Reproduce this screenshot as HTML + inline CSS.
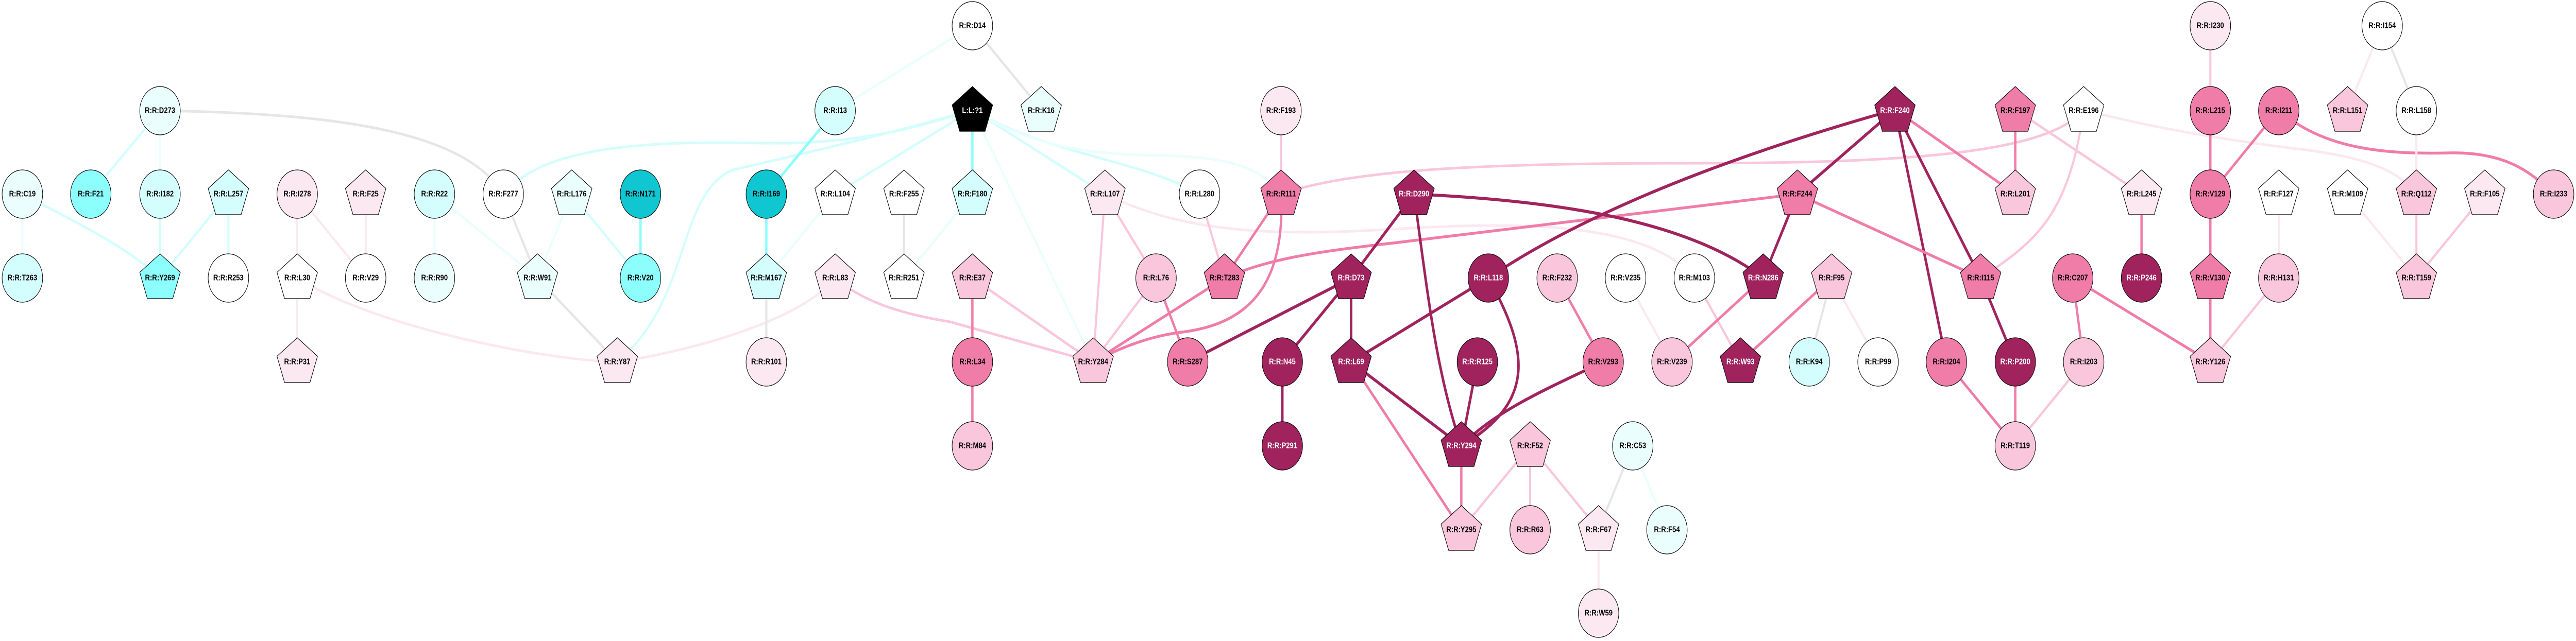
<!DOCTYPE html>
<html><head><meta charset="utf-8"><style>
html,body{margin:0;padding:0;background:#fff;width:100%;height:100%;overflow:hidden}
svg{display:block;width:100vw;height:100vh}
text{font-family:"Liberation Sans",Arial,sans-serif;font-size:16px;font-weight:bold;text-anchor:middle;dominant-baseline:central;fill:#000}
text.w{fill:#fff}
.e{fill:none;stroke-linecap:butt}
.dk{stroke:#a0235e;stroke-width:6}
.md{stroke:#f07ca8;stroke-width:5.5}
.pk{stroke:#f9c6db;stroke-width:5}
.lp{stroke:#fbe8f0;stroke-width:5}
.cy{stroke:#8cfefc;stroke-width:5.5}
.lc{stroke:#d4fdfd;stroke-width:5}
.vc{stroke:#eafefd;stroke-width:5}
.gr{stroke:#e6e6e6;stroke-width:5}
ellipse,use{stroke:#000;stroke-width:1.2}
</style></head><body>
<svg viewBox="0 0 6101 1245" preserveAspectRatio="none" xmlns="http://www.w3.org/2000/svg">
<defs><polygon id="p" points="0,-47 48,-11 30,40 -30,40 -48,-11"/></defs>
<g class="e">
<path class="lc" d="M379,215 L215,377"/>
<path class="vc" d="M379,215 L379,377"/>
<path class="gr" d="M379,215 C800,220 1100,255 1192,377"/>
<path class="vc" d="M53,377 L53,540"/>
<path class="lc" d="M53,377 C200,440 300,480 379,540"/>
<path class="lc" d="M379,377 L379,540"/>
<path class="lc" d="M541,377 L379,540"/>
<path class="lc" d="M541,377 L541,540"/>
<path class="lp" d="M704,377 L704,540"/>
<path class="lp" d="M704,377 L866,540"/>
<path class="lp" d="M866,377 L866,540"/>
<path class="lp" d="M704,540 L704,703"/>
<path class="lp" d="M704,540 C900,640 1300,700 1462,703"/>
<path class="vc" d="M1029,377 L1029,540"/>
<path class="vc" d="M1029,377 L1273,540"/>
<path class="gr" d="M1192,377 L1273,540"/>
<path class="lc" d="M1192,377 C1280,290 1500,272 1800,278 C2050,282 2200,240 2303,213"/>
<path class="vc" d="M1354,377 L1273,540"/>
<path class="lc" d="M1354,377 L1517,540"/>
<path class="cy" d="M1517,377 L1517,540"/>
<path class="gr" d="M1273,540 L1462,703"/>
<path class="lc" d="M1462,703 C1640,580 1600,380 1735,330 C1950,290 2200,240 2303,213"/>
<path class="lp" d="M1462,703 C1650,680 1900,620 1978,540"/>
<path class="cy" d="M1978,215 L1815,377"/>
<path class="vc" d="M1978,215 L2303,50"/>
<path class="cy" d="M1815,377 L1815,540"/>
<path class="vc" d="M1815,540 L1978,377"/>
<path class="gr" d="M1815,540 L1815,703"/>
<path class="lc" d="M1978,377 L2303,213"/>
<path class="pk" d="M1978,540 C2050,590 2150,612 2250,625 L2589,703"/>
<path class="gr" d="M2141,377 L2141,540"/>
<path class="cy" d="M2303,213 L2303,377"/>
<path class="vc" d="M2303,213 L2589,703"/>
<path class="lc" d="M2303,213 L2617,377"/>
<path class="lc" d="M2303,213 C2480,300 2700,310 2841,377"/>
<path class="vc" d="M2303,213 C2450,290 2600,300 2750,302 C2900,305 2980,320 3034,377"/>
<path class="gr" d="M2303,50 L2466,213"/>
<path class="vc" d="M2303,377 L2141,540"/>
<path class="md" d="M2303,540 L2303,703"/>
<path class="pk" d="M2303,540 L2589,703"/>
<path class="md" d="M2303,703 L2303,866"/>
<path class="pk" d="M2617,377 L2589,703"/>
<path class="pk" d="M2617,377 L2738,540"/>
<path class="lp" d="M2617,377 C2800,450 3000,460 3300,445 C3600,430 3900,430 4013,540"/>
<path class="pk" d="M2738,540 L2589,703"/>
<path class="md" d="M2738,540 L2813,703"/>
<path class="pk" d="M2841,377 L2900,540"/>
<path class="pk" d="M3034,215 L3034,377"/>
<path class="md" d="M3034,377 L2900,540"/>
<path class="md" d="M3034,377 C3045,560 2950,630 2800,645 C2700,655 2620,690 2589,703"/>
<path class="pk" d="M3034,377 C3200,330 3500,317 4000,317 C4500,317 4850,300 4935,213"/>
<path class="md" d="M2900,540 L2589,703"/>
<path class="md" d="M2900,540 C3000,505 3100,490 3300,472 L4257,377"/>
<path class="dk" d="M2813,703 L3200,540"/>
<path class="dk" d="M3037,703 L3200,540"/>
<path class="dk" d="M3037,703 L3037,866"/>
<path class="dk" d="M3349,377 L3200,540"/>
<path class="dk" d="M3349,377 C3380,560 3400,720 3461,866"/>
<path class="dk" d="M3349,377 C3700,390 4000,430 4176,540"/>
<path class="dk" d="M3200,540 L3200,703"/>
<path class="dk" d="M3525,540 L3200,703"/>
<path class="dk" d="M3525,540 C3620,680 3640,780 3461,866"/>
<path class="dk" d="M3525,540 Q3850,360 4488,213"/>
<path class="dk" d="M3499,703 L3461,866"/>
<path class="dk" d="M3797,703 C3650,760 3540,800 3461,866"/>
<path class="md" d="M3688,540 L3797,703"/>
<path class="dk" d="M3200,703 L3461,866"/>
<path class="md" d="M3200,703 L3461,1029"/>
<path class="md" d="M3461,866 L3461,1029"/>
<path class="pk" d="M3624,866 L3461,1029"/>
<path class="pk" d="M3624,866 L3624,1029"/>
<path class="pk" d="M3624,866 L3786,1029"/>
<path class="gr" d="M3867,866 L3786,1029"/>
<path class="vc" d="M3867,866 L3948,1029"/>
<path class="lp" d="M3786,1029 L3786,1191"/>
<path class="lp" d="M3850,540 L3960,703"/>
<path class="pk" d="M4013,540 L4122,703"/>
<path class="md" d="M4176,540 L3960,703"/>
<path class="dk" d="M4176,540 L4257,377"/>
<path class="md" d="M4122,703 L4338,540"/>
<path class="dk" d="M4488,213 L4257,377"/>
<path class="md" d="M4488,213 L4773,377"/>
<path class="dk" d="M4488,213 L4610,703"/>
<path class="dk" d="M4488,213 L4691,540"/>
<path class="md" d="M4257,377 L4691,540"/>
<path class="gr" d="M4338,540 L4285,703"/>
<path class="lp" d="M4338,540 L4448,703"/>
<path class="md" d="M4773,213 L4773,377"/>
<path class="pk" d="M4773,213 L5072,377"/>
<path class="pk" d="M4935,213 C4900,420 4820,470 4691,540"/>
<path class="lp" d="M4935,213 C5100,250 5300,275 5450,290 C5600,305 5680,330 5723,377"/>
<path class="md" d="M5072,377 L5072,540"/>
<path class="dk" d="M4691,540 L4773,703"/>
<path class="md" d="M4610,703 L4773,866"/>
<path class="md" d="M4773,703 L4773,866"/>
<path class="pk" d="M4935,703 L4773,866"/>
<path class="md" d="M4909,540 L4935,703"/>
<path class="md" d="M4909,540 L5235,703"/>
<path class="pk" d="M5235,50 L5235,213"/>
<path class="md" d="M5235,213 L5235,377"/>
<path class="md" d="M5235,377 L5397,213"/>
<path class="md" d="M5235,377 L5235,540"/>
<path class="md" d="M5235,540 L5235,703"/>
<path class="pk" d="M5235,703 L5397,540"/>
<path class="md" d="M5397,213 C5500,290 5650,300 5800,297 C5930,295 5990,330 6048,377"/>
<path class="lp" d="M5642,50 L5560,213"/>
<path class="gr" d="M5642,50 L5723,213"/>
<path class="lp" d="M5723,213 L5723,377"/>
<path class="pk" d="M5723,377 L5723,540"/>
<path class="pk" d="M5885,377 L5723,540"/>
<path class="lp" d="M5560,377 L5723,540"/>
<path class="lp" d="M5397,377 L5397,540"/>
</g>
<g>
<ellipse cx="53" cy="377" rx="48" ry="47" fill="#eafefd"/><text x="53" y="377">R:R:C19</text>
<ellipse cx="53" cy="540" rx="48" ry="47" fill="#d4fdfd"/><text x="53" y="540">R:R:T263</text>
<ellipse cx="215" cy="377" rx="48" ry="47" fill="#8cfefc"/><text x="215" y="377">R:R:F21</text>
<ellipse cx="379" cy="215" rx="48" ry="47" fill="#eafefd"/><text x="379" y="215">R:R:D273</text>
<ellipse cx="379" cy="377" rx="48" ry="47" fill="#d4fdfd"/><text x="379" y="377">R:R:I182</text>
<use href="#p" x="379" y="540" fill="#8cfefc"/><text x="379" y="540">R:R:Y269</text>
<use href="#p" x="541" y="377" fill="#d4fdfd"/><text x="541" y="377">R:R:L257</text>
<ellipse cx="541" cy="540" rx="48" ry="47" fill="#fff"/><text x="541" y="540">R:R:R253</text>
<ellipse cx="704" cy="377" rx="48" ry="47" fill="#fbe8f0"/><text x="704" y="377">R:R:I278</text>
<use href="#p" x="704" y="540" fill="#fff"/><text x="704" y="540">R:R:L30</text>
<use href="#p" x="704" y="703" fill="#fbe8f0"/><text x="704" y="703">R:R:P31</text>
<use href="#p" x="866" y="377" fill="#fbe8f0"/><text x="866" y="377">R:R:F25</text>
<ellipse cx="866" cy="540" rx="48" ry="47" fill="#fff"/><text x="866" y="540">R:R:V29</text>
<ellipse cx="1029" cy="377" rx="48" ry="47" fill="#d4fdfd"/><text x="1029" y="377">R:R:R22</text>
<ellipse cx="1029" cy="540" rx="48" ry="47" fill="#eafefd"/><text x="1029" y="540">R:R:R90</text>
<ellipse cx="1192" cy="377" rx="48" ry="47" fill="#fff"/><text x="1192" y="377">R:R:F277</text>
<use href="#p" x="1354" y="377" fill="#eafefd"/><text x="1354" y="377">R:R:L176</text>
<ellipse cx="1517" cy="377" rx="48" ry="47" fill="#10c6d0"/><text x="1517" y="377">R:R:N171</text>
<ellipse cx="1517" cy="540" rx="48" ry="47" fill="#8cfefc"/><text x="1517" y="540">R:R:V20</text>
<use href="#p" x="1273" y="540" fill="#eafefd"/><text x="1273" y="540">R:R:W91</text>
<use href="#p" x="1462" y="703" fill="#fbe8f0"/><text x="1462" y="703">R:R:Y87</text>
<ellipse cx="1978" cy="215" rx="48" ry="47" fill="#d4fdfd"/><text x="1978" y="215">R:R:I13</text>
<ellipse cx="1815" cy="377" rx="48" ry="47" fill="#10c6d0"/><text x="1815" y="377">R:R:I169</text>
<use href="#p" x="1815" y="540" fill="#d4fdfd"/><text x="1815" y="540">R:R:M167</text>
<ellipse cx="1815" cy="703" rx="48" ry="47" fill="#fbe8f0"/><text x="1815" y="703">R:R:R101</text>
<use href="#p" x="1978" y="377" fill="#fff"/><text x="1978" y="377">R:R:L104</text>
<use href="#p" x="1978" y="540" fill="#fbe8f0"/><text x="1978" y="540">R:R:L83</text>
<ellipse cx="2303" cy="50" rx="48" ry="47" fill="#fff"/><text x="2303" y="50">R:R:D14</text>
<use href="#p" x="2303" y="215" fill="#000"/><text class="w" x="2303" y="215">L:L:?1</text>
<use href="#p" x="2466" y="215" fill="#eafefd"/><text x="2466" y="215">R:R:K16</text>
<use href="#p" x="2141" y="377" fill="#fff"/><text x="2141" y="377">R:R:F255</text>
<use href="#p" x="2141" y="540" fill="#fff"/><text x="2141" y="540">R:R:R251</text>
<use href="#p" x="2303" y="377" fill="#d4fdfd"/><text x="2303" y="377">R:R:F180</text>
<use href="#p" x="2303" y="540" fill="#f9c6db"/><text x="2303" y="540">R:R:E37</text>
<ellipse cx="2303" cy="703" rx="48" ry="47" fill="#f07ca8"/><text x="2303" y="703">R:R:L34</text>
<ellipse cx="2303" cy="866" rx="48" ry="47" fill="#f9c6db"/><text x="2303" y="866">R:R:M84</text>
<use href="#p" x="2617" y="377" fill="#fbe8f0"/><text x="2617" y="377">R:R:L107</text>
<use href="#p" x="2589" y="703" fill="#f9c6db"/><text x="2589" y="703">R:R:Y284</text>
<ellipse cx="2738" cy="540" rx="48" ry="47" fill="#f9c6db"/><text x="2738" y="540">R:R:L76</text>
<ellipse cx="2813" cy="703" rx="48" ry="47" fill="#f07ca8"/><text x="2813" y="703">R:R:S287</text>
<ellipse cx="2841" cy="377" rx="48" ry="47" fill="#fff"/><text x="2841" y="377">R:R:L280</text>
<ellipse cx="3034" cy="215" rx="48" ry="47" fill="#fbe8f0"/><text x="3034" y="215">R:R:F193</text>
<use href="#p" x="3034" y="377" fill="#f07ca8"/><text x="3034" y="377">R:R:R111</text>
<use href="#p" x="2900" y="540" fill="#f07ca8"/><text x="2900" y="540">R:R:T283</text>
<ellipse cx="3037" cy="703" rx="48" ry="47" fill="#a0235e"/><text class="w" x="3037" y="703">R:R:N45</text>
<ellipse cx="3037" cy="866" rx="48" ry="47" fill="#a0235e"/><text class="w" x="3037" y="866">R:R:P291</text>
<use href="#p" x="3349" y="377" fill="#a0235e"/><text class="w" x="3349" y="377">R:R:D290</text>
<use href="#p" x="3200" y="540" fill="#a0235e"/><text class="w" x="3200" y="540">R:R:D73</text>
<ellipse cx="3525" cy="540" rx="48" ry="47" fill="#a0235e"/><text class="w" x="3525" y="540">R:R:L118</text>
<ellipse cx="3688" cy="540" rx="48" ry="47" fill="#f9c6db"/><text x="3688" y="540">R:R:F232</text>
<ellipse cx="3850" cy="540" rx="48" ry="47" fill="#fff"/><text x="3850" y="540">R:R:V235</text>
<ellipse cx="4013" cy="540" rx="48" ry="47" fill="#fff"/><text x="4013" y="540">R:R:M103</text>
<use href="#p" x="4176" y="540" fill="#a0235e"/><text class="w" x="4176" y="540">R:R:N286</text>
<use href="#p" x="3200" y="703" fill="#a0235e"/><text class="w" x="3200" y="703">R:R:L69</text>
<ellipse cx="3499" cy="703" rx="48" ry="47" fill="#a0235e"/><text class="w" x="3499" y="703">R:R:R125</text>
<ellipse cx="3797" cy="703" rx="48" ry="47" fill="#f07ca8"/><text x="3797" y="703">R:R:V293</text>
<ellipse cx="3960" cy="703" rx="48" ry="47" fill="#f9c6db"/><text x="3960" y="703">R:R:V239</text>
<use href="#p" x="4122" y="703" fill="#a0235e"/><text class="w" x="4122" y="703">R:R:W93</text>
<use href="#p" x="3461" y="866" fill="#a0235e"/><text class="w" x="3461" y="866">R:R:Y294</text>
<use href="#p" x="3624" y="866" fill="#f9c6db"/><text x="3624" y="866">R:R:F52</text>
<ellipse cx="3867" cy="866" rx="48" ry="47" fill="#eafefd"/><text x="3867" y="866">R:R:C53</text>
<use href="#p" x="3461" y="1029" fill="#f9c6db"/><text x="3461" y="1029">R:R:Y295</text>
<ellipse cx="3624" cy="1029" rx="48" ry="47" fill="#f9c6db"/><text x="3624" y="1029">R:R:R63</text>
<use href="#p" x="3786" y="1029" fill="#fbe8f0"/><text x="3786" y="1029">R:R:F67</text>
<ellipse cx="3948" cy="1029" rx="48" ry="47" fill="#eafefd"/><text x="3948" y="1029">R:R:F54</text>
<ellipse cx="3786" cy="1191" rx="48" ry="47" fill="#fbe8f0"/><text x="3786" y="1191">R:R:W59</text>
<use href="#p" x="4488" y="215" fill="#a0235e"/><text class="w" x="4488" y="215">R:R:F240</text>
<use href="#p" x="4773" y="215" fill="#f07ca8"/><text x="4773" y="215">R:R:F197</text>
<use href="#p" x="4935" y="215" fill="#fff"/><text x="4935" y="215">R:R:E196</text>
<ellipse cx="5235" cy="50" rx="48" ry="47" fill="#fbe8f0"/><text x="5235" y="50">R:R:I230</text>
<ellipse cx="5235" cy="215" rx="48" ry="47" fill="#f07ca8"/><text x="5235" y="215">R:R:L215</text>
<use href="#p" x="4257" y="377" fill="#f07ca8"/><text x="4257" y="377">R:R:F244</text>
<use href="#p" x="4773" y="377" fill="#f9c6db"/><text x="4773" y="377">R:R:L201</text>
<use href="#p" x="5072" y="377" fill="#fbe8f0"/><text x="5072" y="377">R:R:L245</text>
<ellipse cx="5235" cy="377" rx="48" ry="47" fill="#f07ca8"/><text x="5235" y="377">R:R:V129</text>
<use href="#p" x="4338" y="540" fill="#f9c6db"/><text x="4338" y="540">R:R:F95</text>
<use href="#p" x="4691" y="540" fill="#f07ca8"/><text x="4691" y="540">R:R:I115</text>
<ellipse cx="4909" cy="540" rx="48" ry="47" fill="#f07ca8"/><text x="4909" y="540">R:R:C207</text>
<ellipse cx="5072" cy="540" rx="48" ry="47" fill="#a0235e"/><text class="w" x="5072" y="540">R:R:P246</text>
<use href="#p" x="5235" y="540" fill="#f07ca8"/><text x="5235" y="540">R:R:V130</text>
<ellipse cx="4285" cy="703" rx="48" ry="47" fill="#d4fdfd"/><text x="4285" y="703">R:R:K94</text>
<ellipse cx="4448" cy="703" rx="48" ry="47" fill="#fff"/><text x="4448" y="703">R:R:P99</text>
<ellipse cx="4610" cy="703" rx="48" ry="47" fill="#f07ca8"/><text x="4610" y="703">R:R:I204</text>
<ellipse cx="4773" cy="703" rx="48" ry="47" fill="#a0235e"/><text class="w" x="4773" y="703">R:R:P200</text>
<ellipse cx="4935" cy="703" rx="48" ry="47" fill="#f9c6db"/><text x="4935" y="703">R:R:I203</text>
<use href="#p" x="5235" y="703" fill="#f9c6db"/><text x="5235" y="703">R:R:Y126</text>
<ellipse cx="4773" cy="866" rx="48" ry="47" fill="#f9c6db"/><text x="4773" y="866">R:R:T119</text>
<ellipse cx="5397" cy="215" rx="48" ry="47" fill="#f07ca8"/><text x="5397" y="215">R:R:I211</text>
<use href="#p" x="5560" y="215" fill="#f9c6db"/><text x="5560" y="215">R:R:L151</text>
<ellipse cx="5642" cy="50" rx="48" ry="47" fill="#fff"/><text x="5642" y="50">R:R:I154</text>
<ellipse cx="5723" cy="215" rx="48" ry="47" fill="#fff"/><text x="5723" y="215">R:R:L158</text>
<use href="#p" x="5397" y="377" fill="#fff"/><text x="5397" y="377">R:R:F127</text>
<use href="#p" x="5560" y="377" fill="#fff"/><text x="5560" y="377">R:R:M109</text>
<use href="#p" x="5723" y="377" fill="#f9c6db"/><text x="5723" y="377">R:R:Q112</text>
<use href="#p" x="5885" y="377" fill="#fbe8f0"/><text x="5885" y="377">R:R:F105</text>
<ellipse cx="6048" cy="377" rx="48" ry="47" fill="#f9c6db"/><text x="6048" y="377">R:R:I233</text>
<ellipse cx="5397" cy="540" rx="48" ry="47" fill="#f9c6db"/><text x="5397" y="540">R:R:H131</text>
<use href="#p" x="5723" y="540" fill="#f9c6db"/><text x="5723" y="540">R:R:T159</text>
</g>
</svg>
</body></html>
